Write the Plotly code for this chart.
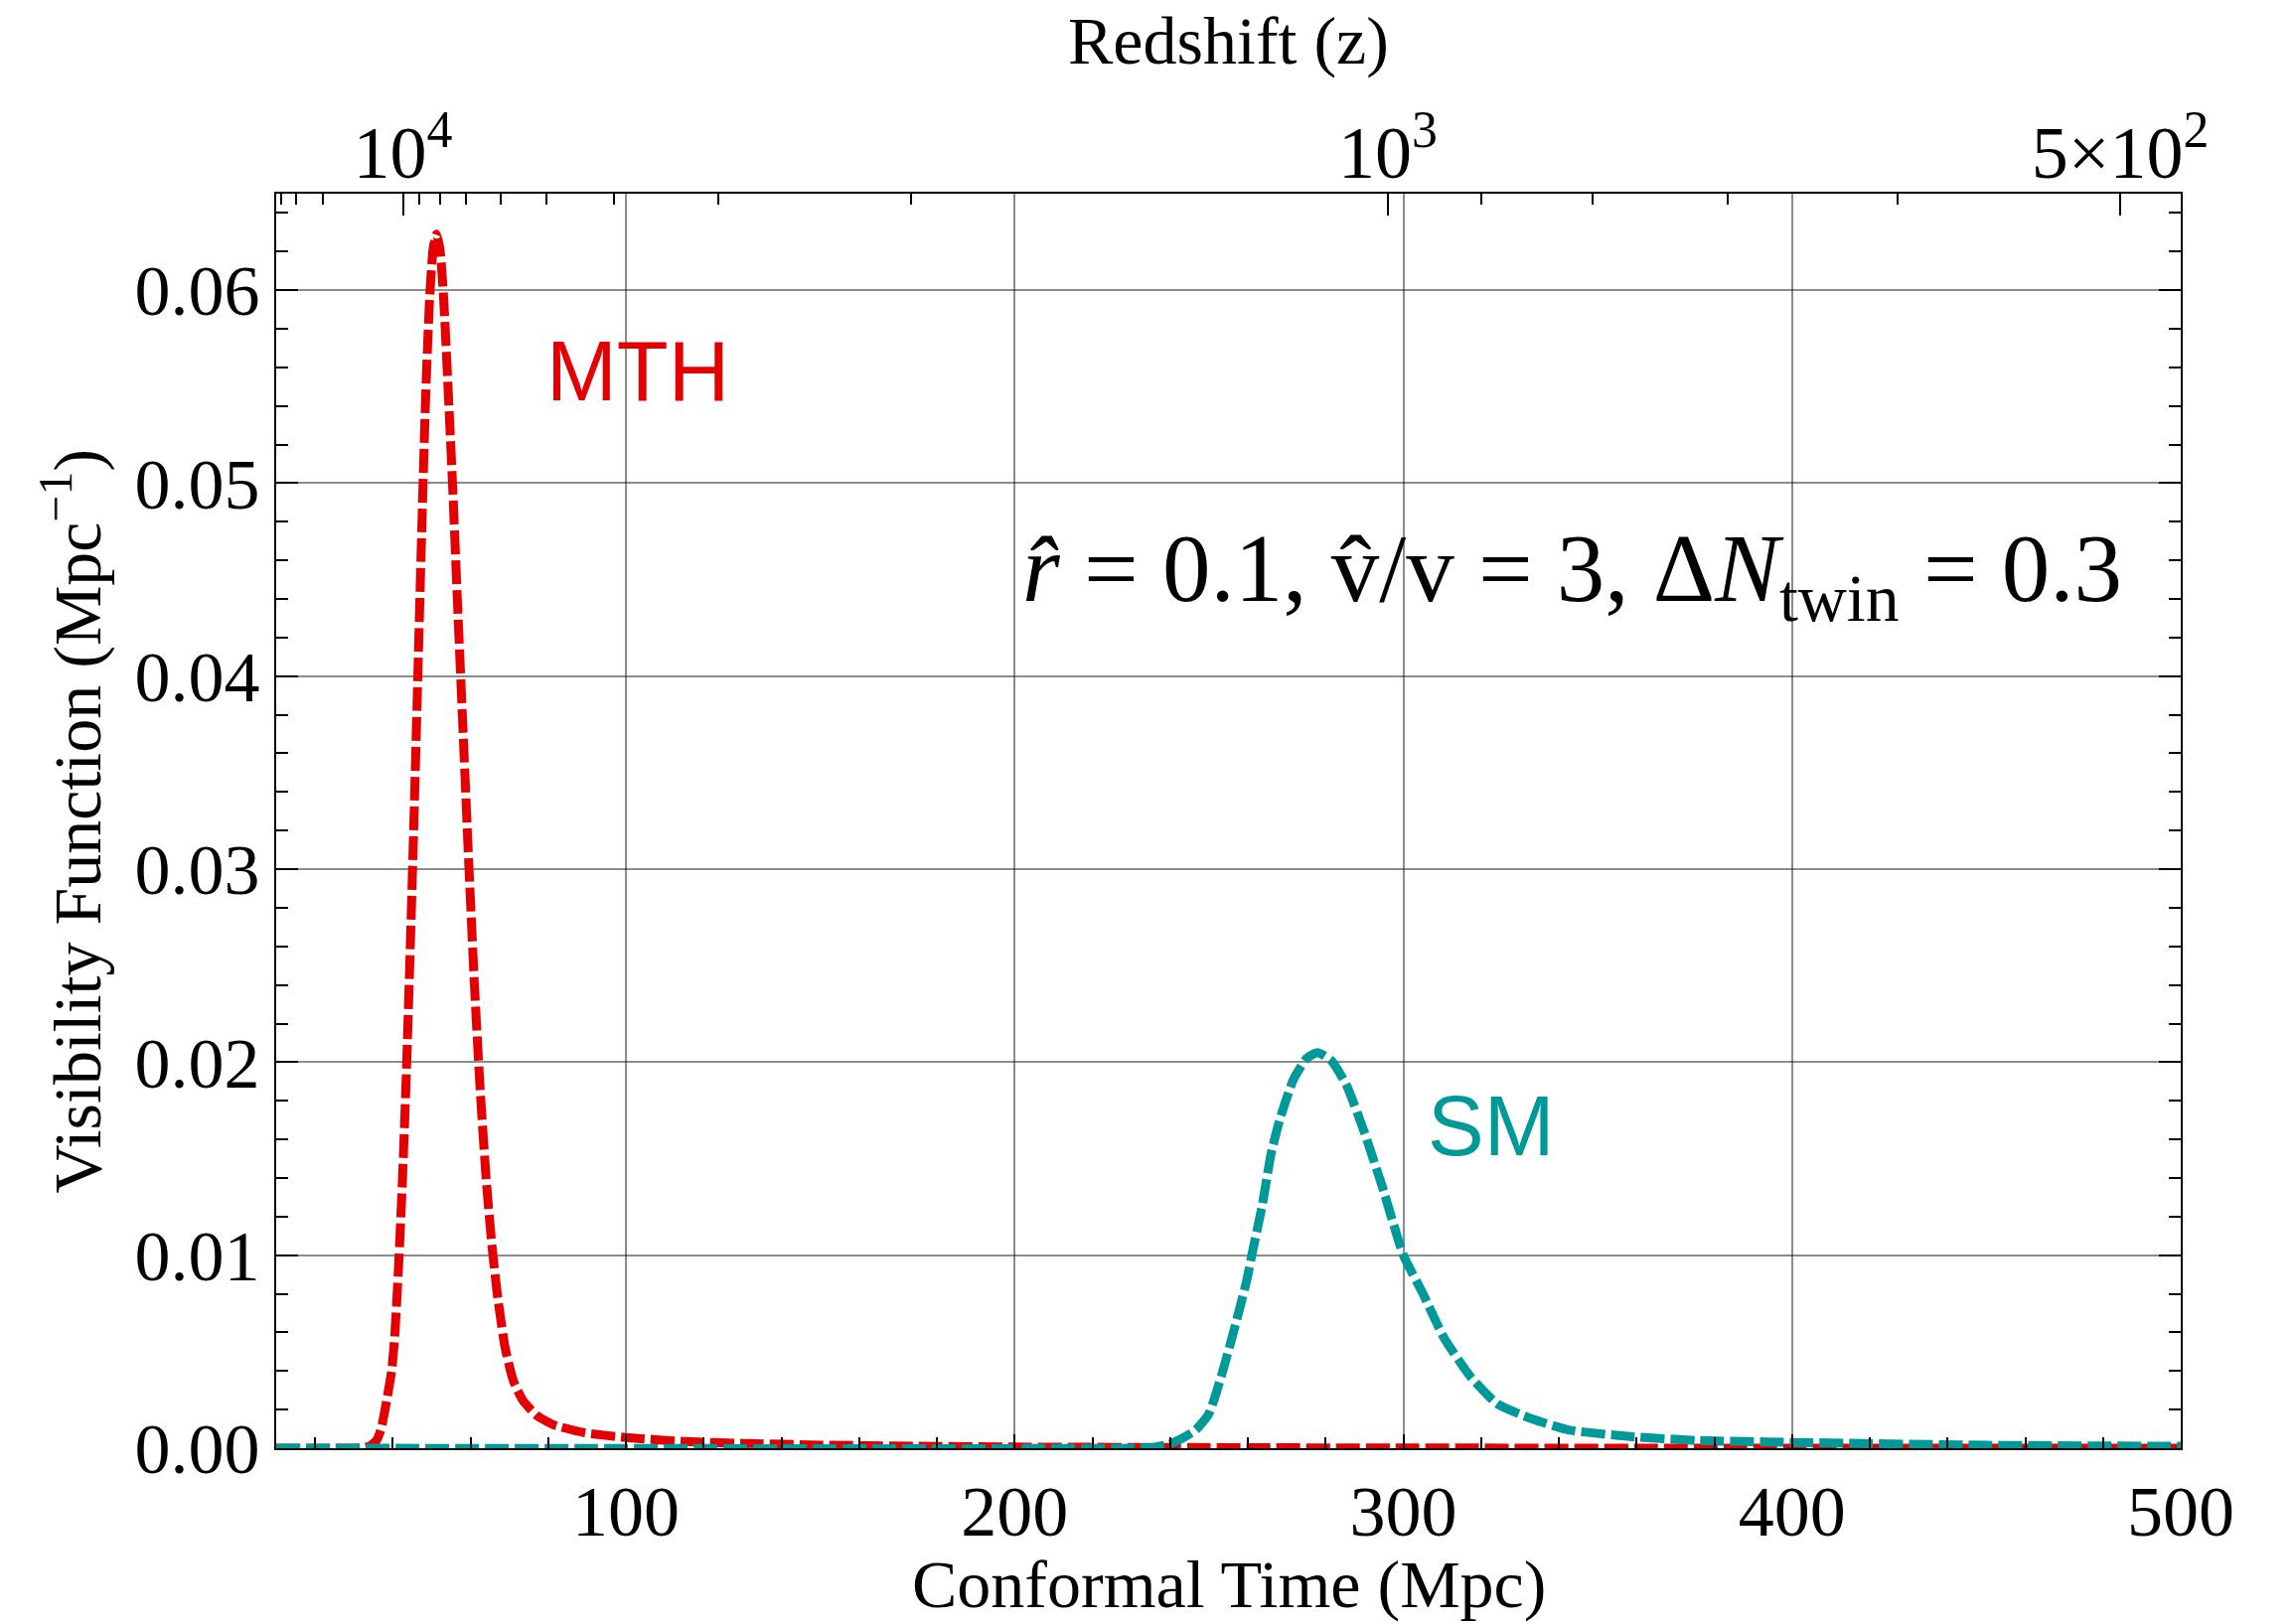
import plotly.graph_objects as go

# ---------------- data ----------------
mth_x = [10, 25, 32, 34, 35.8, 37, 38.0, 39.7, 40.5, 41.5, 42.5, 43.5, 44.5, 45.5, 46.5, 47.5,
         48.5, 49.5, 50.4, 51.3, 52.2, 53.1, 54.2, 55.4, 56.6, 58, 59.5, 61, 62.5, 64, 65.5,
         67, 68.9, 71, 73.4, 77, 81.5, 89.4, 100, 115, 130, 150, 175, 200, 250, 300, 400, 500]
mth_y = [0, 0, 0.00002, 0.0001, 0.0004, 0.0010, 0.0020, 0.0040, 0.0058, 0.0095, 0.0140, 0.0195,
         0.0260, 0.0330, 0.0405, 0.0480, 0.0548, 0.0597, 0.0622, 0.0629, 0.0620, 0.0595, 0.0550,
         0.0498, 0.0440, 0.0375, 0.0305, 0.0240, 0.0185, 0.0140, 0.0105, 0.0078, 0.0052, 0.0035,
         0.0025, 0.0017, 0.0012, 0.0008, 0.00055, 0.00035, 0.00025, 0.00016, 0.0001, 0.00006,
         0.00003, 0.00001, 0, 0]

sm_x = [10, 230, 236, 239.7, 243, 246.6, 250, 253.4, 256.8, 259.7, 261, 263.7, 266, 268.3, 271.7,
        275.1, 277.9, 281.4, 285.4, 289.9, 294.5, 300, 304.8, 310.5, 317.3, 324.1, 333.3, 342.4,
        358.4, 375.5, 400, 450, 500]
sm_y = [0, 0, 0.00005, 0.0002, 0.0005, 0.00095, 0.0018, 0.0039, 0.0064, 0.0087, 0.0100, 0.0126,
        0.0153, 0.0171, 0.0191, 0.0202, 0.0205, 0.0201, 0.0188, 0.0164, 0.0136, 0.0100, 0.0081,
        0.0057, 0.0037, 0.0023, 0.0015, 0.00095, 0.0006, 0.0004, 0.0003, 0.00015, 0.0001]

# redshift axis (top): conformal time positions of redshift ticks
z_major_conf = [42.6, 296.0, 484.4]
z_major_text = ["10<sup>4</sup>", "10<sup>3</sup>", "5×10<sup>2</sup>"]
z_minor_conf = [11.2, 15.0, 22.1, 46.8, 52.1, 58.9, 67.8, 79.6, 97.0, 123.8, 173.3,
                320.0, 348.6, 383.4, 427.1]

x_ticks = [100, 200, 300, 400, 500]
y_ticks = [0.00, 0.01, 0.02, 0.03, 0.04, 0.05, 0.06]

RED = "rgb(228,0,0)"
TEAL = "rgb(0,153,153)"
SERIF = "Liberation Serif"
SANS = "Liberation Sans"
GRID = "rgba(0,0,0,0.45)"

fig = go.Figure()
fig.add_trace(go.Scatter(x=mth_x, y=mth_y, mode="lines", name="MTH",
                         line=dict(color=RED, width=9, dash="24px,6px", shape="spline", smoothing=0.5)))
fig.add_trace(go.Scatter(x=sm_x, y=sm_y, mode="lines", name="SM",
                         line=dict(color=TEAL, width=9, dash="24px,6px", shape="spline", smoothing=0.5)))
# invisible trace to activate the top axis
fig.add_trace(go.Scatter(x=[10, 500], y=[0, 0], xaxis="x2", mode="lines",
                         line=dict(width=0), hoverinfo="skip", showlegend=False))

fig.update_layout(
    width=2310, height=1635,
    margin=dict(l=278, r=115, t=195, b=177),
    paper_bgcolor="white", plot_bgcolor="white",
    showlegend=False,
    font=dict(family=SERIF, size=72, color="black"),
    xaxis=dict(
        range=[10, 500], tickvals=x_ticks, ticktext=[str(v) for v in x_ticks],
        ticks="inside", ticklen=14, tickwidth=2, tickcolor="black",
        showline=True, linecolor="black", linewidth=2, mirror=True,
        showgrid=True, gridcolor=GRID, gridwidth=1.6, zeroline=False,
        tickfont=dict(family=SERIF, size=72),
        minor=dict(tickvals=[20, 40, 60, 80, 120, 140, 160, 180, 220, 240, 260, 280,
                             320, 340, 360, 380, 420, 440, 460, 480],
                   ticks="inside", ticklen=11, tickwidth=2, tickcolor="black", showgrid=False),
    ),
    xaxis2=dict(
        overlaying="x", side="top", range=[10, 500],
        tickvals=z_major_conf, ticktext=z_major_text,
        ticks="inside", ticklen=22, tickwidth=2, tickcolor="black",
        showline=False, showgrid=False, zeroline=False,
        tickfont=dict(family=SERIF, size=74),
        minor=dict(tickvals=z_minor_conf, ticks="inside", ticklen=11, tickwidth=2,
                   tickcolor="black", showgrid=False),
    ),
    yaxis=dict(
        range=[0, 0.065], tickvals=y_ticks, tickformat=".2f",
        ticks="inside", ticklen=22, tickwidth=2, tickcolor="black",
        showline=True, linecolor="black", linewidth=2, mirror="ticks",
        showgrid=True, gridcolor=GRID, gridwidth=1.6, zeroline=False,
        tickfont=dict(family=SERIF, size=72),
        minor=dict(dtick=0.002, ticks="inside", ticklen=12, tickwidth=2,
                   tickcolor="black", showgrid=False),
    ),
    annotations=[
        dict(text="Conformal Time (Mpc)", xref="paper", yref="paper",
             x=0.5, y=-0.1085, xanchor="center", yanchor="middle", showarrow=False,
             font=dict(family=SERIF, size=68)),
        dict(text="Redshift (z)", xref="paper", yref="paper",
             x=0.5, y=1.122, xanchor="center", yanchor="middle", showarrow=False,
             font=dict(family=SERIF, size=68)),
        dict(text="Visibility Function (Mpc<sup>−1</sup>)", xref="paper", yref="paper",
             x=-0.107, y=0.5, xanchor="center", yanchor="middle", textangle=-90,
             showarrow=False, font=dict(family=SERIF, size=68)),
        dict(text="MTH", x=103.1, y=0.0558, xref="x", yref="y", showarrow=False,
             xanchor="center", yanchor="middle", font=dict(family=SANS, size=85, color=RED)),
        dict(text="SM", x=322.6, y=0.0167, xref="x", yref="y", showarrow=False,
             xanchor="center", yanchor="middle", font=dict(family=SANS, size=85, color=TEAL)),
        dict(text="<i>r\u0302</i> = 0.1, v\u0302/v = 3, Δ<i>N</i><sub>twin</sub> = 0.3",
             x=201.5, y=0.0452, xref="x", yref="y", showarrow=False,
             xanchor="left", yanchor="middle", font=dict(family=SERIF, size=97, color="black")),
    ],
)

fig.write_html("out.html")
